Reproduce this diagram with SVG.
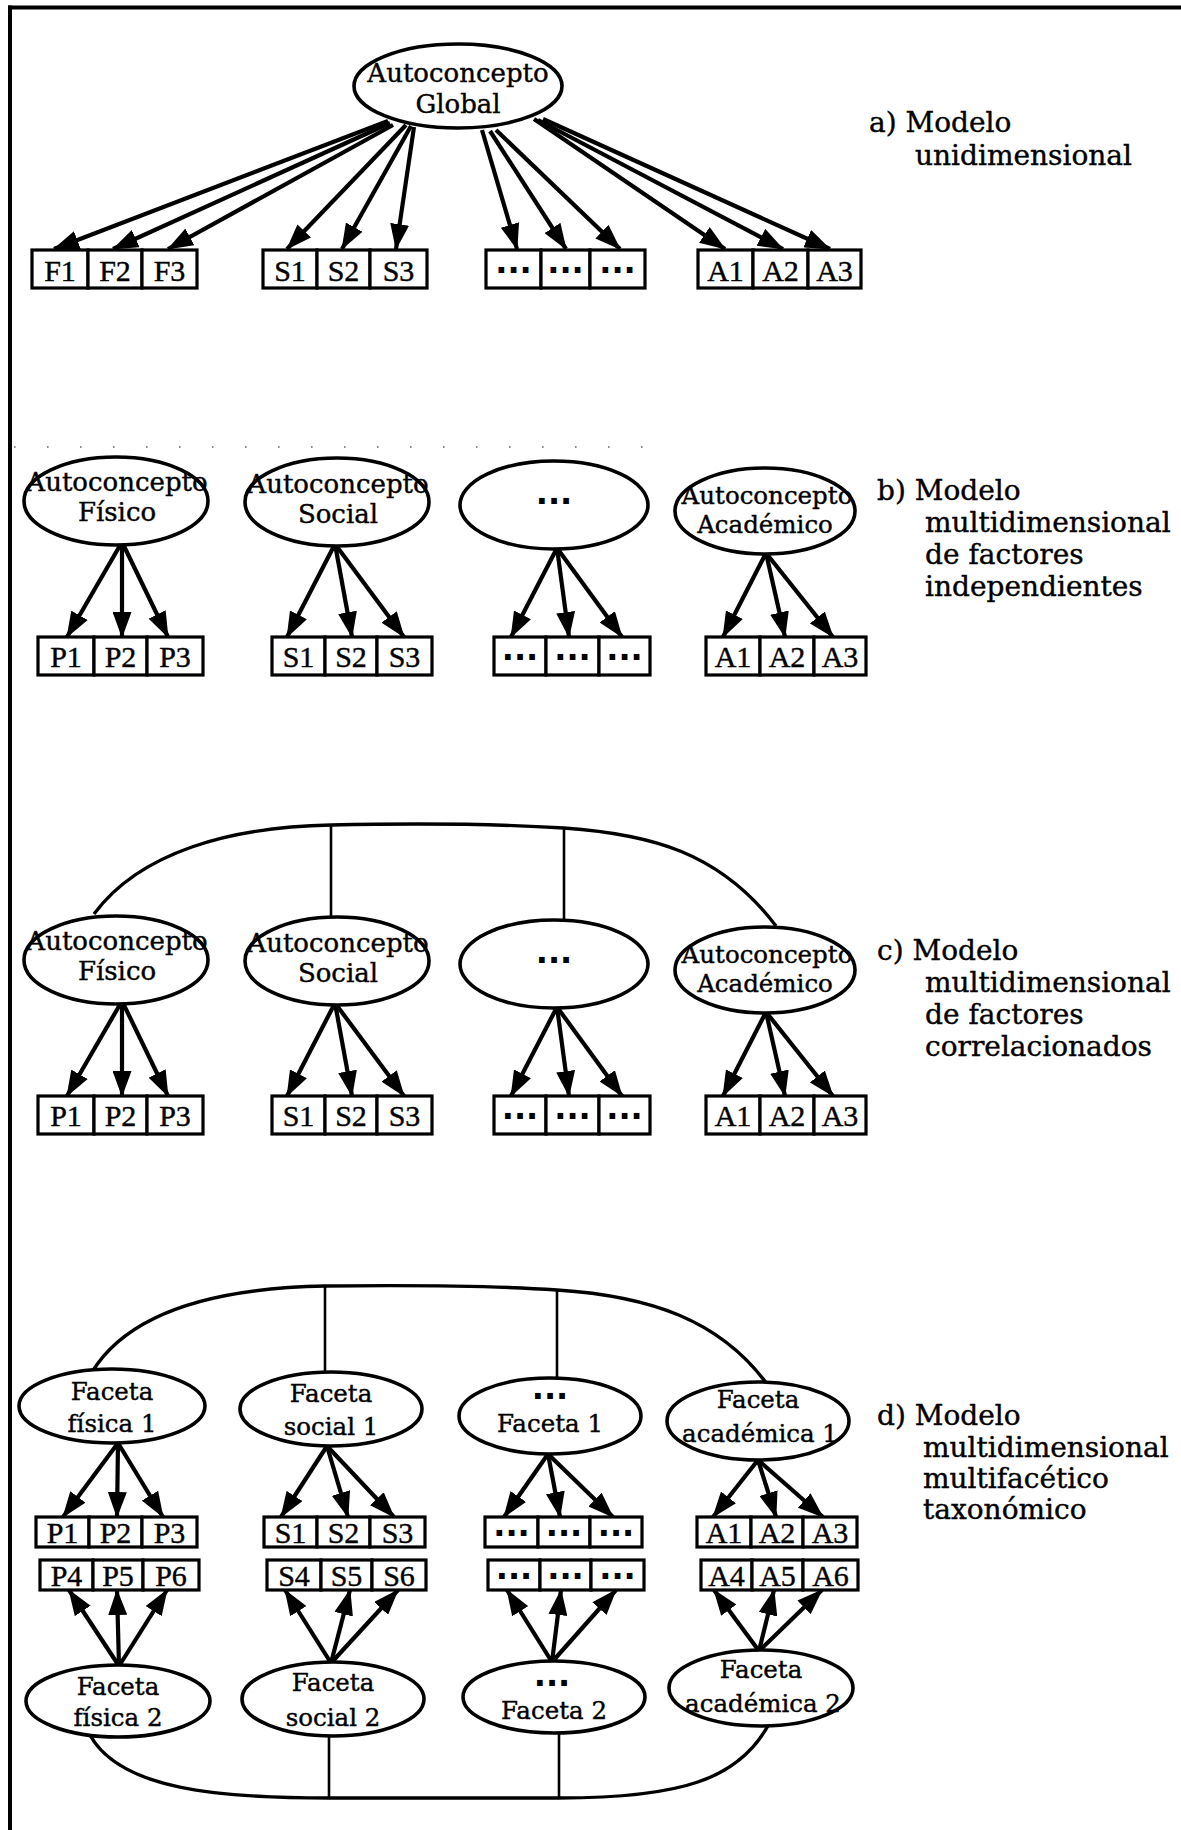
<svg xmlns="http://www.w3.org/2000/svg" width="1181" height="1830" viewBox="0 0 1181 1830">
<defs>
  <marker id="ah" markerUnits="userSpaceOnUse" markerWidth="26" markerHeight="19" viewBox="0 0 26 19" refX="25" refY="9.5" orient="auto">
    <path d="M0,0 L26,9.5 L0,19 z" fill="#000"/>
  </marker>
</defs>
<style>
  .ell{fill:#fff;stroke:#000;stroke-width:3.6}
  .box{fill:#fff;stroke:#000;stroke-width:3.2}
  .arr{stroke:#000;stroke-width:4.2;fill:none;marker-end:url(#ah)}
  .cor{stroke:#000;stroke-width:3.4;fill:none}
  .stem{stroke:#000;stroke-width:2.6;fill:none}
  .frame{stroke:#000;stroke-width:4;fill:none}
  text{fill:#000;stroke:#000;stroke-width:0.4}
  .et{font-family:"DejaVu Serif",serif;font-size:26px;text-anchor:middle}
  .ft{font-family:"DejaVu Serif",serif;font-size:24.5px;text-anchor:middle}
  .bt{font-family:"Liberation Serif",serif;font-size:30px;text-anchor:middle}
  .dots{font-family:"DejaVu Sans",sans-serif;font-weight:bold;font-size:32px;text-anchor:middle;stroke-width:0}
  .lab{font-family:"DejaVu Serif",serif;font-size:28px}
</style>
<rect width="1181" height="1830" fill="#fff"/>

<!-- page frame: top and left rules only -->
<g id="frame">
  <line class="frame" x1="8" y1="7.5" x2="1181" y2="7.5"/>
  <line class="frame" x1="10" y1="5.5" x2="10" y2="1830"/>
</g>

<!-- faint dotted rule above model b -->
<line x1="14" y1="447" x2="656" y2="447" stroke="#666" stroke-width="1.6" stroke-dasharray="1.6 31.4"/>

<!-- ============ connectors ============ -->
<g id="connectors">
  <!-- a) global factor to every indicator -->
  <line class="arr" x1="388" y1="121" x2="54" y2="249"/>
  <line class="arr" x1="390" y1="123" x2="113" y2="249"/>
  <line class="arr" x1="393" y1="125" x2="168" y2="249"/>
  <line class="arr" x1="406" y1="125" x2="287" y2="249"/>
  <line class="arr" x1="411" y1="126" x2="342" y2="249"/>
  <line class="arr" x1="414" y1="127" x2="396" y2="249"/>
  <line class="arr" x1="482" y1="130" x2="517" y2="249"/>
  <line class="arr" x1="490" y1="131" x2="566" y2="249"/>
  <line class="arr" x1="496" y1="130" x2="620" y2="249"/>
  <line class="arr" x1="534" y1="119" x2="725" y2="249"/>
  <line class="arr" x1="538" y1="120" x2="783" y2="249"/>
  <line class="arr" x1="543" y1="119" x2="830" y2="249"/>

  <!-- b) independent factors -->
  <line class="arr" x1="122" y1="542" x2="67" y2="637"/>
  <line class="arr" x1="122" y1="542" x2="122" y2="637"/>
  <line class="arr" x1="122" y1="542" x2="168" y2="637"/>
  <line class="arr" x1="335" y1="544" x2="287" y2="637"/>
  <line class="arr" x1="335" y1="544" x2="352" y2="637"/>
  <line class="arr" x1="335" y1="544" x2="404" y2="637"/>
  <line class="arr" x1="557" y1="548" x2="511" y2="637"/>
  <line class="arr" x1="557" y1="548" x2="569" y2="637"/>
  <line class="arr" x1="557" y1="548" x2="622" y2="637"/>
  <line class="arr" x1="766" y1="553" x2="723" y2="637"/>
  <line class="arr" x1="766" y1="553" x2="785" y2="637"/>
  <line class="arr" x1="766" y1="553" x2="833" y2="637"/>

  <!-- c) correlated factors -->
  <path class="cor" d="M94,914 C140,852 230,827 331,825 C420,823 500,824 564,828 C650,834 720,852 776,926"/>
  <line class="stem" x1="331" y1="825" x2="331" y2="918"/>
  <line class="stem" x1="564" y1="828" x2="564" y2="921"/>
  <line class="arr" x1="122" y1="1001" x2="67" y2="1096"/>
  <line class="arr" x1="122" y1="1001" x2="122" y2="1096"/>
  <line class="arr" x1="122" y1="1001" x2="168" y2="1096"/>
  <line class="arr" x1="335" y1="1003" x2="287" y2="1096"/>
  <line class="arr" x1="335" y1="1003" x2="352" y2="1096"/>
  <line class="arr" x1="335" y1="1003" x2="404" y2="1096"/>
  <line class="arr" x1="557" y1="1007" x2="511" y2="1096"/>
  <line class="arr" x1="557" y1="1007" x2="569" y2="1096"/>
  <line class="arr" x1="557" y1="1007" x2="622" y2="1096"/>
  <line class="arr" x1="766" y1="1012" x2="723" y2="1096"/>
  <line class="arr" x1="766" y1="1012" x2="785" y2="1096"/>
  <line class="arr" x1="766" y1="1012" x2="833" y2="1096"/>

  <!-- d) facet 1 correlations and loadings -->
  <path class="cor" d="M92,1372 C130,1310 220,1288 325,1286 C420,1285 500,1286 557,1290 C650,1296 720,1320 767,1384"/>
  <line class="stem" x1="325" y1="1286" x2="325" y2="1373"/>
  <line class="stem" x1="557" y1="1290" x2="557" y2="1379"/>
  <line class="arr" x1="118" y1="1443" x2="63" y2="1517"/>
  <line class="arr" x1="118" y1="1443" x2="117" y2="1517"/>
  <line class="arr" x1="118" y1="1443" x2="163" y2="1517"/>
  <line class="arr" x1="327" y1="1446" x2="281" y2="1517"/>
  <line class="arr" x1="327" y1="1446" x2="348" y2="1517"/>
  <line class="arr" x1="327" y1="1446" x2="394" y2="1517"/>
  <line class="arr" x1="548" y1="1454" x2="504" y2="1517"/>
  <line class="arr" x1="548" y1="1454" x2="560" y2="1517"/>
  <line class="arr" x1="548" y1="1454" x2="613" y2="1517"/>
  <line class="arr" x1="758" y1="1460" x2="713" y2="1517"/>
  <line class="arr" x1="758" y1="1460" x2="776" y2="1517"/>
  <line class="arr" x1="758" y1="1460" x2="823" y2="1517"/>

  <!-- d) facet 2 loadings and correlations -->
  <line class="arr" x1="119" y1="1666" x2="69" y2="1590"/>
  <line class="arr" x1="119" y1="1666" x2="117" y2="1590"/>
  <line class="arr" x1="119" y1="1666" x2="167" y2="1590"/>
  <line class="arr" x1="331" y1="1663" x2="285" y2="1590"/>
  <line class="arr" x1="331" y1="1663" x2="350" y2="1590"/>
  <line class="arr" x1="331" y1="1663" x2="398" y2="1590"/>
  <line class="arr" x1="552" y1="1662" x2="507" y2="1590"/>
  <line class="arr" x1="552" y1="1662" x2="561" y2="1590"/>
  <line class="arr" x1="552" y1="1662" x2="616" y2="1590"/>
  <line class="arr" x1="759" y1="1651" x2="714" y2="1590"/>
  <line class="arr" x1="759" y1="1651" x2="774" y2="1590"/>
  <line class="arr" x1="759" y1="1651" x2="822" y2="1590"/>
  <path class="cor" d="M90,1735 C120,1790 220,1798 329,1798 L559,1798 C680,1798 740,1780 770,1722"/>
  <line class="stem" x1="329" y1="1733" x2="329" y2="1799"/>
  <line class="stem" x1="559" y1="1730" x2="559" y2="1799"/>
</g>

<!-- ============ a) unidimensional model ============ -->
<g id="a-global">
  <ellipse class="ell" cx="458" cy="86" rx="104" ry="42"/>
  <text class="et" x="458" y="82">Autoconcepto</text>
  <text class="et" x="458" y="113">Global</text>
</g>
<g id="a-F1"><rect class="box" x="32" y="250" width="56" height="38"/><text class="bt" x="60" y="281">F1</text></g>
<g id="a-F2"><rect class="box" x="88" y="250" width="54" height="38"/><text class="bt" x="115" y="281">F2</text></g>
<g id="a-F3"><rect class="box" x="142" y="250" width="55" height="38"/><text class="bt" x="169.5" y="281">F3</text></g>
<g id="a-S1"><rect class="box" x="263" y="250" width="54" height="38"/><text class="bt" x="290" y="281">S1</text></g>
<g id="a-S2"><rect class="box" x="317" y="250" width="53" height="38"/><text class="bt" x="343.5" y="281">S2</text></g>
<g id="a-S3"><rect class="box" x="370" y="250" width="57" height="38"/><text class="bt" x="398.5" y="281">S3</text></g>
<g id="a-X1"><rect class="box" x="486" y="250" width="55" height="38"/><text class="dots" x="513.5" y="273">...</text></g>
<g id="a-X2"><rect class="box" x="541" y="250" width="49" height="38"/><text class="dots" x="565.5" y="273">...</text></g>
<g id="a-X3"><rect class="box" x="590" y="250" width="55" height="38"/><text class="dots" x="617.5" y="273">...</text></g>
<g id="a-A1"><rect class="box" x="698" y="250" width="55" height="38"/><text class="bt" x="725.5" y="281">A1</text></g>
<g id="a-A2"><rect class="box" x="753" y="250" width="55" height="38"/><text class="bt" x="780.5" y="281">A2</text></g>
<g id="a-A3"><rect class="box" x="808" y="250" width="53" height="38"/><text class="bt" x="834.5" y="281">A3</text></g>
<g id="a-label">
  <text class="lab" x="869" y="132">a) Modelo</text>
  <text class="lab" x="915" y="165">unidimensional</text>
</g>

<!-- ============ b) independent factors ============ -->
<g id="b-fisico">
  <ellipse class="ell" cx="116" cy="501" rx="92" ry="44"/>
  <text class="et" x="117" y="491">Autoconcepto</text>
  <text class="et" x="117" y="521">Físico</text>
</g>
<g id="b-social">
  <ellipse class="ell" cx="337" cy="502" rx="92" ry="44"/>
  <text class="et" x="338" y="493">Autoconcepto</text>
  <text class="et" x="338" y="523">Social</text>
</g>
<g id="b-otro">
  <ellipse class="ell" cx="554" cy="505" rx="94" ry="44"/>
  <text class="dots" x="554" y="504">...</text>
</g>
<g id="b-academico">
  <ellipse class="ell" cx="765" cy="511" rx="90" ry="43"/>
  <text class="ft" x="767" y="504">Autoconcepto</text>
  <text class="ft" x="765" y="533">Académico</text>
</g>
<g id="b-P1"><rect class="box" x="38" y="637" width="56" height="38"/><text class="bt" x="66" y="667">P1</text></g>
<g id="b-P2"><rect class="box" x="94" y="637" width="53" height="38"/><text class="bt" x="120.5" y="667">P2</text></g>
<g id="b-P3"><rect class="box" x="147" y="637" width="56" height="38"/><text class="bt" x="175" y="667">P3</text></g>
<g id="b-S1"><rect class="box" x="272" y="637" width="53" height="38"/><text class="bt" x="298.5" y="667">S1</text></g>
<g id="b-S2"><rect class="box" x="325" y="637" width="52" height="38"/><text class="bt" x="351" y="667">S2</text></g>
<g id="b-S3"><rect class="box" x="377" y="637" width="55" height="38"/><text class="bt" x="404.5" y="667">S3</text></g>
<g id="b-X1"><rect class="box" x="494" y="637" width="52" height="38"/><text class="dots" x="520" y="660">...</text></g>
<g id="b-X2"><rect class="box" x="546" y="637" width="53" height="38"/><text class="dots" x="572.5" y="660">...</text></g>
<g id="b-X3"><rect class="box" x="599" y="637" width="51" height="38"/><text class="dots" x="624.5" y="660">...</text></g>
<g id="b-A1"><rect class="box" x="706" y="637" width="54" height="38"/><text class="bt" x="733" y="667">A1</text></g>
<g id="b-A2"><rect class="box" x="760" y="637" width="54" height="38"/><text class="bt" x="787" y="667">A2</text></g>
<g id="b-A3"><rect class="box" x="814" y="637" width="52" height="38"/><text class="bt" x="840" y="667">A3</text></g>
<g id="b-label">
  <text class="lab" x="877" y="500">b) Modelo</text>
  <text class="lab" x="925" y="532">multidimensional</text>
  <text class="lab" x="925" y="564">de factores</text>
  <text class="lab" x="925" y="596">independientes</text>
</g>

<!-- ============ c) correlated factors ============ -->
<g id="c-fisico">
  <ellipse class="ell" cx="116" cy="960" rx="92" ry="44"/>
  <text class="et" x="117" y="950">Autoconcepto</text>
  <text class="et" x="117" y="980">Físico</text>
</g>
<g id="c-social">
  <ellipse class="ell" cx="337" cy="961" rx="92" ry="44"/>
  <text class="et" x="338" y="952">Autoconcepto</text>
  <text class="et" x="338" y="982">Social</text>
</g>
<g id="c-otro">
  <ellipse class="ell" cx="554" cy="964" rx="94" ry="44"/>
  <text class="dots" x="554" y="963">...</text>
</g>
<g id="c-academico">
  <ellipse class="ell" cx="765" cy="970" rx="90" ry="43"/>
  <text class="ft" x="767" y="963">Autoconcepto</text>
  <text class="ft" x="765" y="992">Académico</text>
</g>
<g id="c-P1"><rect class="box" x="38" y="1096" width="56" height="38"/><text class="bt" x="66" y="1126">P1</text></g>
<g id="c-P2"><rect class="box" x="94" y="1096" width="53" height="38"/><text class="bt" x="120.5" y="1126">P2</text></g>
<g id="c-P3"><rect class="box" x="147" y="1096" width="56" height="38"/><text class="bt" x="175" y="1126">P3</text></g>
<g id="c-S1"><rect class="box" x="272" y="1096" width="53" height="38"/><text class="bt" x="298.5" y="1126">S1</text></g>
<g id="c-S2"><rect class="box" x="325" y="1096" width="52" height="38"/><text class="bt" x="351" y="1126">S2</text></g>
<g id="c-S3"><rect class="box" x="377" y="1096" width="55" height="38"/><text class="bt" x="404.5" y="1126">S3</text></g>
<g id="c-X1"><rect class="box" x="494" y="1096" width="52" height="38"/><text class="dots" x="520" y="1119">...</text></g>
<g id="c-X2"><rect class="box" x="546" y="1096" width="53" height="38"/><text class="dots" x="572.5" y="1119">...</text></g>
<g id="c-X3"><rect class="box" x="599" y="1096" width="51" height="38"/><text class="dots" x="624.5" y="1119">...</text></g>
<g id="c-A1"><rect class="box" x="706" y="1096" width="54" height="38"/><text class="bt" x="733" y="1126">A1</text></g>
<g id="c-A2"><rect class="box" x="760" y="1096" width="54" height="38"/><text class="bt" x="787" y="1126">A2</text></g>
<g id="c-A3"><rect class="box" x="814" y="1096" width="52" height="38"/><text class="bt" x="840" y="1126">A3</text></g>
<g id="c-label">
  <text class="lab" x="877" y="960">c) Modelo</text>
  <text class="lab" x="925" y="992">multidimensional</text>
  <text class="lab" x="925" y="1024">de factores</text>
  <text class="lab" x="925" y="1056">correlacionados</text>
</g>

<!-- ============ d) multifaceted taxonomic model ============ -->
<g id="d-fisica1">
  <ellipse class="ell" cx="112" cy="1406" rx="93" ry="37"/>
  <text class="ft" x="112" y="1400">Faceta</text>
  <text class="ft" x="112" y="1432">física 1</text>
</g>
<g id="d-social1">
  <ellipse class="ell" cx="331" cy="1409" rx="91" ry="37"/>
  <text class="ft" x="331" y="1402">Faceta</text>
  <text class="ft" x="331" y="1435">social 1</text>
</g>
<g id="d-otra1">
  <ellipse class="ell" cx="550" cy="1416" rx="91" ry="38"/>
  <text class="dots" x="550" y="1399">...</text>
  <text class="ft" x="550" y="1432">Faceta 1</text>
</g>
<g id="d-academica1">
  <ellipse class="ell" cx="758" cy="1421" rx="91" ry="39"/>
  <text class="ft" x="758" y="1408">Faceta</text>
  <text class="ft" x="760" y="1442">académica 1</text>
</g>

<g id="d-P1"><rect class="box" x="36" y="1517" width="53" height="30"/><text class="bt" x="62.5" y="1543">P1</text></g>
<g id="d-P2"><rect class="box" x="89" y="1517" width="53" height="30"/><text class="bt" x="115.5" y="1543">P2</text></g>
<g id="d-P3"><rect class="box" x="142" y="1517" width="55" height="30"/><text class="bt" x="169.5" y="1543">P3</text></g>
<g id="d-S1"><rect class="box" x="264" y="1517" width="53" height="30"/><text class="bt" x="290.5" y="1543">S1</text></g>
<g id="d-S2"><rect class="box" x="317" y="1517" width="53" height="30"/><text class="bt" x="343.5" y="1543">S2</text></g>
<g id="d-S3"><rect class="box" x="370" y="1517" width="55" height="30"/><text class="bt" x="397.5" y="1543">S3</text></g>
<g id="d-X1"><rect class="box" x="485" y="1517" width="53" height="30"/><text class="dots" x="511.5" y="1536">...</text></g>
<g id="d-X2"><rect class="box" x="538" y="1517" width="52" height="30"/><text class="dots" x="564" y="1536">...</text></g>
<g id="d-X3"><rect class="box" x="590" y="1517" width="52" height="30"/><text class="dots" x="616" y="1536">...</text></g>
<g id="d-A1"><rect class="box" x="697" y="1517" width="54" height="30"/><text class="bt" x="724" y="1543">A1</text></g>
<g id="d-A2"><rect class="box" x="751" y="1517" width="52" height="30"/><text class="bt" x="777" y="1543">A2</text></g>
<g id="d-A3"><rect class="box" x="803" y="1517" width="54" height="30"/><text class="bt" x="830" y="1543">A3</text></g>

<g id="d-P4"><rect class="box" x="40" y="1560" width="53" height="30"/><text class="bt" x="66.5" y="1586">P4</text></g>
<g id="d-P5"><rect class="box" x="93" y="1560" width="50" height="30"/><text class="bt" x="118" y="1586">P5</text></g>
<g id="d-P6"><rect class="box" x="143" y="1560" width="56" height="30"/><text class="bt" x="171" y="1586">P6</text></g>
<g id="d-S4"><rect class="box" x="267" y="1560" width="54" height="30"/><text class="bt" x="294" y="1586">S4</text></g>
<g id="d-S5"><rect class="box" x="321" y="1560" width="51" height="30"/><text class="bt" x="346.5" y="1586">S5</text></g>
<g id="d-S6"><rect class="box" x="372" y="1560" width="54" height="30"/><text class="bt" x="399" y="1586">S6</text></g>
<g id="d-X4"><rect class="box" x="488" y="1560" width="52" height="30"/><text class="dots" x="514" y="1579">...</text></g>
<g id="d-X5"><rect class="box" x="540" y="1560" width="51" height="30"/><text class="dots" x="565.5" y="1579">...</text></g>
<g id="d-X6"><rect class="box" x="591" y="1560" width="53" height="30"/><text class="dots" x="617.5" y="1579">...</text></g>
<g id="d-A4"><rect class="box" x="701" y="1560" width="51" height="30"/><text class="bt" x="726.5" y="1586">A4</text></g>
<g id="d-A5"><rect class="box" x="752" y="1560" width="51" height="30"/><text class="bt" x="777.5" y="1586">A5</text></g>
<g id="d-A6"><rect class="box" x="803" y="1560" width="55" height="30"/><text class="bt" x="830.5" y="1586">A6</text></g>

<g id="d-fisica2">
  <ellipse class="ell" cx="118" cy="1701" rx="92" ry="36"/>
  <text class="ft" x="118" y="1695">Faceta</text>
  <text class="ft" x="118" y="1726">física 2</text>
</g>
<g id="d-social2">
  <ellipse class="ell" cx="333" cy="1699" rx="91" ry="37"/>
  <text class="ft" x="333" y="1691">Faceta</text>
  <text class="ft" x="333" y="1726">social 2</text>
</g>
<g id="d-otra2">
  <ellipse class="ell" cx="554" cy="1697" rx="91" ry="36"/>
  <text class="dots" x="552" y="1686">...</text>
  <text class="ft" x="554" y="1719">Faceta 2</text>
</g>
<g id="d-academica2">
  <ellipse class="ell" cx="761" cy="1688" rx="92" ry="38"/>
  <text class="ft" x="761" y="1678">Faceta</text>
  <text class="ft" x="763" y="1712">académica 2</text>
</g>

<g id="d-label">
  <text class="lab" x="877" y="1425">d) Modelo</text>
  <text class="lab" x="923" y="1457">multidimensional</text>
  <text class="lab" x="923" y="1488">multifacético</text>
  <text class="lab" x="923" y="1519">taxonómico</text>
</g>
</svg>
